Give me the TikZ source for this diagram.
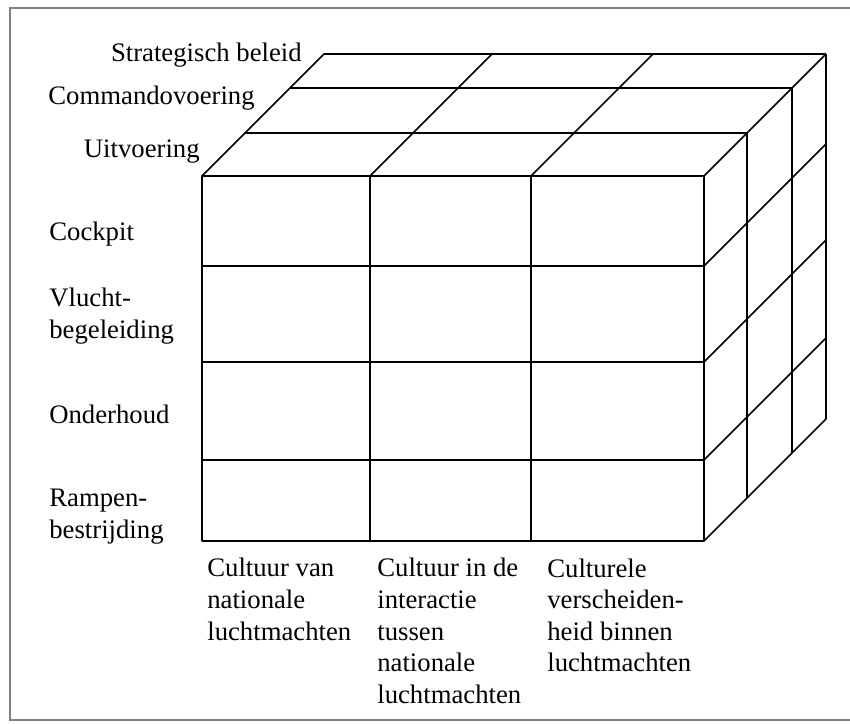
\documentclass[tikz,border=0pt]{standalone}
\usepackage{fontspec}
\setmainfont{Liberation Serif}
\usepackage{tikz}
\usetikzlibrary{positioning}

\begin{document}
\begin{tikzpicture}[lbl/.style={inner sep=0pt, align=left, font=\fontsize{15.2}{18}\selectfont}]
\useasboundingbox (0,0) rectangle (17,14.46);
\draw [gray, line width=0.6pt] (17,14.3) -| (0.2,0.06) -- (17,0.06);

\begin{scope}[line width=0.9pt, line join=round]
% front face
\draw (4.04,3.64) rectangle (14.08,10.94);
\draw (7.40,3.64) -- (7.40,10.94);
\draw (10.62,3.64) -- (10.62,10.94);
\draw (4.04,5.26) -- (14.08,5.26);
\draw (4.04,7.22) -- (14.08,7.22);
\draw (4.04,9.14) -- (14.08,9.14);

% top face
\draw (4.90,11.80) -- (14.94,11.80);
\draw (5.80,12.70) -- (15.84,12.70);
\draw (6.48,13.38) -- (16.52,13.38);
\draw (4.04,10.94) -- (6.48,13.38);
\draw (7.40,10.94) -- (9.84,13.38);
\draw (10.62,10.94) -- (13.06,13.38);
\draw (14.08,10.94) -- (16.52,13.38);

% right face
\draw (14.94,4.50) -- (14.94,11.80);
\draw (15.84,5.40) -- (15.84,12.70);
\draw (16.52,6.08) -- (16.52,13.38);
\draw (14.08,3.64) -- (16.52,6.08);
\draw (14.08,5.26) -- (16.52,7.70);
\draw (14.08,7.22) -- (16.52,9.66);
\draw (14.08,9.14) -- (16.52,11.58);
\end{scope}

% depth layers
\node [lbl, anchor=base east] (strat) at (6.04,13.22) {Strategisch beleid};
\node [lbl, anchor=base east] (cmd) at (5.10,12.36) {Commandovoering};
\node [lbl, anchor=base east] (uitv) at (4.00,11.30) {Uitvoering};

% rows (base = last line)
\node [lbl, anchor=base west] (cockpit) at (0.98,9.64) {Cockpit};
\node [lbl, anchor=base west] (vlucht) at (0.98,7.69) {Vlucht-\\begeleiding};
\node [lbl, anchor=base west] (onderh) at (0.98,5.98) {Onderhoud};
\node [lbl, anchor=base west] (rampen) at (0.98,3.69) {Rampen-\\bestrijding};

% columns
\node [lbl, anchor=base west] (nat) at (4.14,1.655) {Cultuur van\\nationale\\luchtmachten};
\node [lbl, anchor=base west] (inter) at (7.54,0.39) {Cultuur in de\\interactie\\tussen\\nationale\\luchtmachten};
\node [lbl, anchor=base west] (versch) at (10.94,1.02) {Culturele\\verscheiden-\\heid binnen\\luchtmachten};
\end{tikzpicture}
\end{document}
